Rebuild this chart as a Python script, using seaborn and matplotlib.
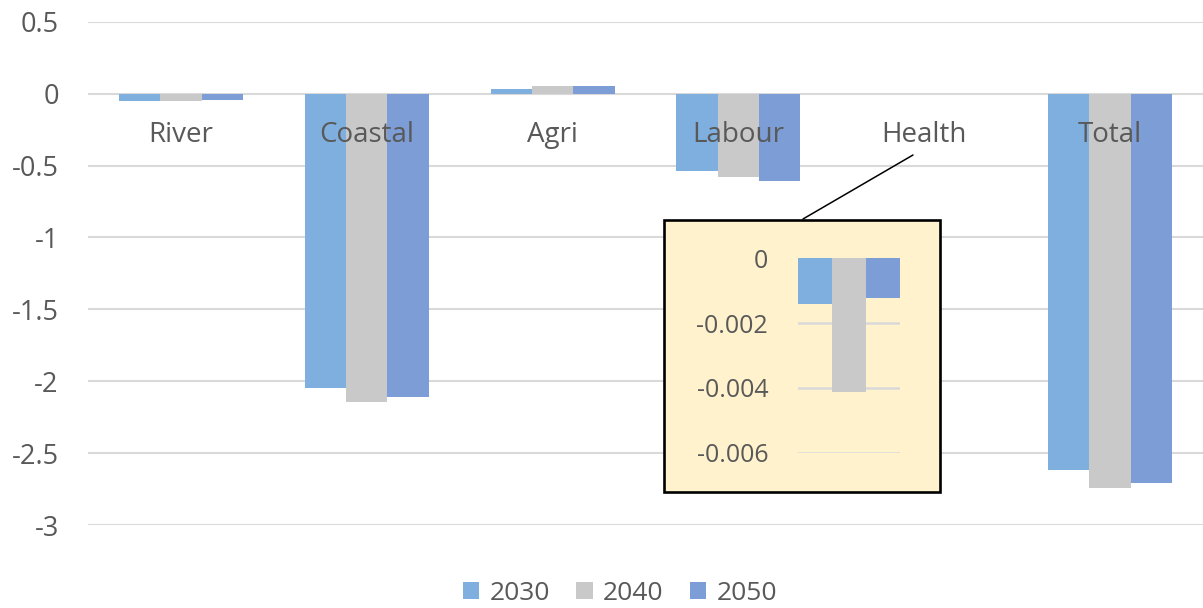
import numpy as np
import pandas as pd
import matplotlib
matplotlib.use("Agg")
import matplotlib.pyplot as plt
from matplotlib.patches import Rectangle
from matplotlib.lines import Line2D
import seaborn as sns

categories = ["River", "Coastal", "Agri", "Labour", "Health", "Total"]
years = ["2030", "2040", "2050"]
v2030 = [-0.052, -2.05, 0.035, -0.535, -0.00141, -2.615]
v2040 = [-0.052, -2.148, 0.05, -0.58, -0.00412, -2.74]
v2050 = [-0.043, -2.109, 0.055, -0.61, -0.00122, -2.71]
yticks = [0.5, 0, -0.5, -1, -1.5, -2, -2.5, -3]
ytick_labels = ["0.5", "0", "-0.5", "-1", "-1.5", "-2", "-2.5", "-3"]
inset_ticks = [0, -0.002, -0.004, -0.006]
inset_labels = ["0", "-0.002", "-0.004", "-0.006"]
colors = ["#7EAFDE", "#C9C9C9", "#7C9DD5"]

df = pd.DataFrame({
    "category": categories * 3,
    "year": sum([[y] * len(categories) for y in years], []),
    "value": v2030 + v2040 + v2050,
})

sns.set_theme(style="white")
plt.rcParams["font.family"] = ["Open Sans", "DejaVu Sans"]
TXT = "#595959"
GRID = "#D9D9D9"

W, H = 1203, 608
fig = plt.figure(figsize=(W / 100, H / 100), dpi=100)

def fx(px):
    return px / W

def fy(py):
    return 1 - py / H

# main axes
ax = fig.add_axes([fx(88), fy(525), fx(1203) - fx(88), fy(21.7) - fy(525)])
sns.barplot(data=df, x="category", y="value", hue="year", order=categories,
            hue_order=years, palette=colors, width=0.667, ax=ax,
            saturation=1, edgecolor="none", linewidth=0, legend=True)
ax.set_xlim(-0.5, len(categories) - 0.5)
ax.set_ylim(-3, 0.5)
ax.set_yticks(yticks)
ax.set_yticklabels(ytick_labels)
ax.tick_params(axis="y", length=0, pad=21, labelsize=19.5, labelcolor=TXT)
ax.set_xticks([])
ax.set_xlabel("")
ax.set_ylabel("")
for s in ax.spines.values():
    s.set_visible(False)
ax.yaxis.grid(True, color=GRID, linewidth=1.5)
ax.set_axisbelow(True)

for i, c in enumerate(categories):
    ax.text(i, -0.34, c, ha="center", va="baseline", fontsize=20, color=TXT)

handles, labels = ax.get_legend_handles_labels()
ax.get_legend().remove()
fig.legend(handles, labels, loc="center", bbox_to_anchor=(fx(620), fy(593)),
           ncol=3, frameon=False, fontsize=19, labelcolor=TXT,
           handlelength=0.62, handleheight=0.62, handletextpad=0.4,
           columnspacing=1.0)

# inset box
box = Rectangle((fx(664), fy(492)), fx(940) - fx(664), fy(220) - fy(492),
                transform=fig.transFigure, facecolor="#FFF2CC",
                edgecolor="black", linewidth=1.9, zorder=3)
fig.add_artist(box)
leader = Line2D([fx(913), fx(803)], [fy(155), fy(219)],
                transform=fig.transFigure, color="black", linewidth=1.1, zorder=3)
fig.add_artist(leader)

# inset axes
hdf = df[df["category"] == "Health"]
axi = fig.add_axes([fx(798), fy(452.7), fx(900) - fx(798), fy(258.3) - fy(452.7)])
axi.set_zorder(4)
axi.patch.set_alpha(0)
sns.barplot(data=hdf, x="category", y="value", hue="year", hue_order=years,
            palette=colors, width=1.0, ax=axi, saturation=1,
            edgecolor="none", linewidth=0, legend=False)
axi.set_xlim(-0.5, 0.5)
axi.set_ylim(-0.006, 0)
axi.set_yticks(inset_ticks)
axi.set_yticklabels(inset_labels)
axi.tick_params(axis="y", length=0, pad=21.5, labelsize=18, labelcolor=TXT)
axi.set_xticks([])
axi.set_xlabel("")
axi.set_ylabel("")
for s in axi.spines.values():
    s.set_visible(False)
axi.yaxis.grid(True, color=GRID, linewidth=1.8)
axi.set_axisbelow(True)

fig.savefig("out.png", dpi=100)
